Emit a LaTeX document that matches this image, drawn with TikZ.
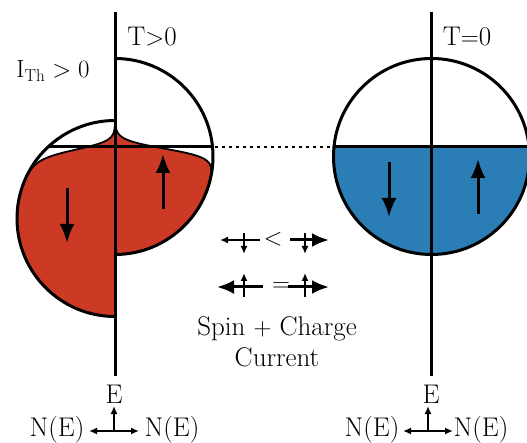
\documentclass[tikz,border=0pt]{standalone}
\usetikzlibrary{arrows.meta}
\definecolor{myred}{RGB}{204,58,38}
\definecolor{myblue}{RGB}{42,126,181}
\begin{document}
\begin{tikzpicture}[x=1pt,y=1pt,
  font=\fontsize{27}{31}\selectfont,
  axis/.style={line width=3pt},
  outline/.style={line width=1.8pt},
  spinarrow/.style={line width=3pt,-{Latex[length=19pt,width=15pt]}},
  thinarrow/.style={line width=1.6pt,-{Latex[length=8pt,width=7pt]}},
  thickarrow/.style={line width=3pt,-{Latex[length=17pt,width=14pt]}},
  smallaxis/.style={line width=1.8pt,-{Latex[length=8pt,width=7pt]}},
  smallaxisboth/.style={line width=1.8pt,{Latex[length=8pt,width=7pt]}-{Latex[length=8pt,width=7pt]}},
  lbl/.style={inner sep=0pt}]
\useasboundingbox (0,0) rectangle (527,442);

% ---------- left diagram (T>0) ----------
% red fills (DOS times Fermi function)
\fill[myred] (115,187.6) -- plot[domain=187.6:383.4, samples=240, variable=\t]
  ({115+sqrt(max(9604-(\t-285.5)^2,0))/(1+exp(max(min((\t-293.5)/4.5,9),-9)))},\t) -- cycle;
\fill[myred] (115,125.6) -- plot[domain=125.6:321.4, samples=240, variable=\t]
  ({115-sqrt(max(9604-(\t-223.5)^2,0))/(1+exp(max(min((\t-293.5)/4.5,9),-9)))},\t) -- cycle;
\draw[outline] plot[domain=187.6:383.4, samples=240, variable=\t]
  ({115+sqrt(max(9604-(\t-285.5)^2,0))/(1+exp(max(min((\t-293.5)/4.5,9),-9)))},\t);
\draw[outline] plot[domain=125.6:321.4, samples=240, variable=\t]
  ({115-sqrt(max(9604-(\t-223.5)^2,0))/(1+exp(max(min((\t-293.5)/4.5,9),-9)))},\t);
% DOS half circles
\draw[axis] (115,383.5) arc[start angle=90, end angle=-90, radius=98];
\draw[axis] (115,321.5) arc[start angle=90, end angle=270, radius=98];
% energy axis and Fermi level
\draw[axis] (115,66) -- (115,430);
\draw[axis] (48,295) -- (213,295);
\draw[line width=2.6pt, dash pattern=on 2.6pt off 4.4pt] (215,295) -- (334,295);
% spin arrows
\draw[spinarrow] (67,254) -- (67,199);
\draw[spinarrow] (163,233) -- (163,288);
% labels
\node[lbl] (tl) at (152,405) {T$>$0};
\node[lbl] (ith) at (53,371) {$\mathrm{I_{Th}} > 0$};

% ---------- right diagram (T=0) ----------
\fill[myblue] (333.96,295) arc[start angle=174.44, end angle=365.56, radius=98] -- cycle;
\draw[axis] (431.5,285.5) circle[radius=98];
\draw[axis] (431.5,66) -- (431.5,430);
\draw[axis] (333.96,295) -- (535,295);
\draw[spinarrow] (389,280) -- (389,225);
\draw[spinarrow] (478,228) -- (478,283);
\node[lbl] (tr) at (467,405) {T$=$0};

% ---------- middle symbols ----------
\coordinate (a1s) at (260,202); \coordinate (a1e) at (220,202);
\coordinate (a1u) at (244,209); \coordinate (a1d) at (244,188);
\draw[thinarrow] (a1s) -- (a1e);
\draw[thinarrow] (a1u) -- (a1d);
\node[lbl] (lt) at (273,203) {$<$};
\coordinate (a2s) at (290,202); \coordinate (a2e) at (329,202);
\coordinate (a2u) at (305,209); \coordinate (a2d) at (305,188);
\draw[thickarrow] (a2s) -- (a2e);
\draw[thinarrow] (a2u) -- (a2d);

\coordinate (b1s) at (263,155); \coordinate (b1e) at (217,155);
\coordinate (b1d) at (244,145); \coordinate (b1u) at (244,169);
\draw[thickarrow] (b1s) -- (b1e);
\draw[thinarrow] (b1d) -- (b1u);
\node[lbl] (eq) at (281,155) {$=$};
\coordinate (b2s) at (288,155); \coordinate (b2e) at (329,155);
\coordinate (b2d) at (305,145); \coordinate (b2u) at (305,169);
\draw[thickarrow] (b2s) -- (b2e);
\draw[thinarrow] (b2d) -- (b2u);

\node[align=center, inner sep=0pt] (sc) at (277,100) {Spin $+$ Charge\\Current};

% ---------- bottom axes ----------
\coordinate (lo) at (114,11);
\coordinate (lo1) at (89,11); \coordinate (lo2) at (139,11); \coordinate (lo3) at (114,36);
\draw[smallaxisboth] (lo1) -- (lo2);
\draw[smallaxis] (lo) -- (lo3);
\node[lbl] (le) at (114,48) {E};
\node[lbl] (ln1) at (57,12) {N(E)};
\node[lbl] (ln2) at (172,12) {N(E)};

\coordinate (ro) at (428,11);
\coordinate (ro1) at (403,11); \coordinate (ro2) at (453,11); \coordinate (ro3) at (428,36);
\draw[smallaxisboth] (ro1) -- (ro2);
\draw[smallaxis] (ro) -- (ro3);
\node[lbl] (re) at (431,48) {E};
\node[lbl] (rn1) at (372,12) {N(E)};
\node[lbl] (rn2) at (481,12) {N(E)};
\end{tikzpicture}
\end{document}
